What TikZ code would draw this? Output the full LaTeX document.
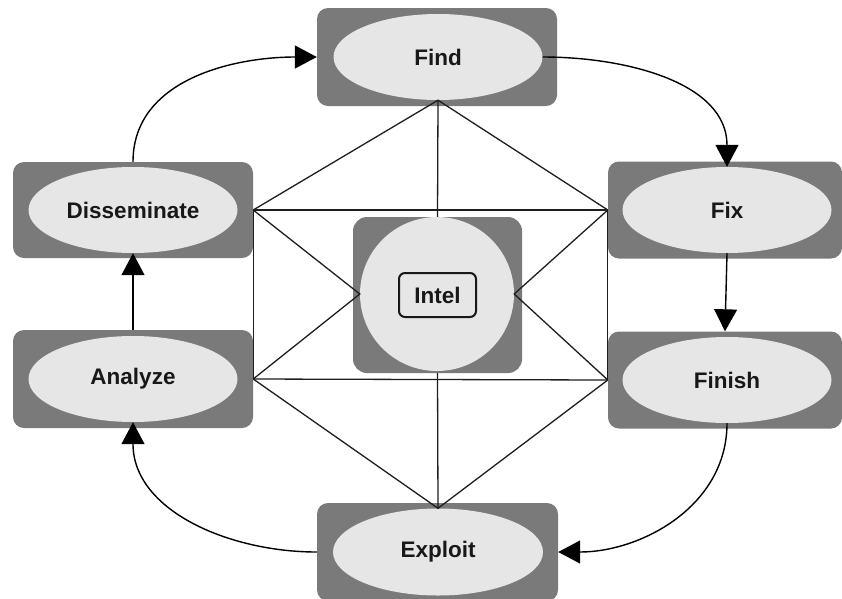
\documentclass[tikz,border=0pt]{standalone}
\usepackage{fontspec}
\setmainfont{Liberation Sans}
\usetikzlibrary{arrows.meta,shapes.geometric}
\definecolor{boxgray}{RGB}{122,122,122}
\definecolor{ovalfill}{RGB}{230,230,230}
\definecolor{inktext}{RGB}{24,24,24}
\definecolor{wire}{RGB}{30,30,30}
\tikzset{
  panel/.style={fill=boxgray, draw=none, rounded corners=11pt, inner sep=0pt},
  oval/.style={ellipse, fill=ovalfill, draw=none, minimum width=209pt, minimum height=86pt,
    inner sep=0pt, text=inktext, font=\bfseries\fontsize{22.5}{26}\selectfont},
  mesh/.style={draw=wire, line width=1.3pt},
  flow/.style={draw=black, line width=1.4pt, -{Triangle[length=22pt,width=23pt]}},
}
\begin{document}
\begin{tikzpicture}[x=1pt,y=-1pt]
\useasboundingbox[fill=white] (0,0) rectangle (842,598);

% grey panels
\node[panel, minimum width=240pt, minimum height=98pt] (findbox) at (437,57) {};
\node[panel, minimum width=240pt, minimum height=96pt] (dissbox) at (133,210) {};
\node[panel, minimum width=240pt, minimum height=98pt] (anabox) at (133,379) {};
\node[panel, minimum width=234pt, minimum height=97pt] (fixbox) at (725,210) {};
\node[panel, minimum width=234pt, minimum height=97pt] (finbox) at (725,380) {};
\node[panel, minimum width=241pt, minimum height=98pt] (expbox) at (437.5,552) {};
\node[panel, rounded corners=14pt, minimum width=169pt, minimum height=156pt] (intelbox) at (437.5,295) {};

% ovals with the stage names
\node[oval] (find) at (438,57) {Find};
\node[oval] (diss) at (133,210) {Disseminate};
\node[oval] (ana) at (133,379) {Analyze};
\node[oval] (fix) at (727,210) {Fix};
\node[oval] (fin) at (727,380) {Finish};
\node[oval, minimum width=210pt, minimum height=87pt] (exp) at (438,552) {Exploit};

% central disc and label
\node[circle, fill=ovalfill, minimum size=154pt, inner sep=0pt] (core) at (437,294) {};
\node[draw=inktext, line width=2pt, rounded corners=6pt, fill=ovalfill,
      minimum width=77pt, minimum height=44pt, inner sep=0pt, text=inktext,
      font=\bfseries\fontsize{22.5}{26}\selectfont] (intel) at (437.5,295) {Intel};

% connecting mesh
\coordinate (T) at (find.south);
\coordinate (B) at (exp.north);
\coordinate (LT) at (dissbox.east);
\coordinate (LB) at (anabox.east);
\coordinate (RT) at (fixbox.west);
\coordinate (RB) at (finbox.west);
\draw[mesh] (LT) -- (T) -- (RT);
\draw[mesh] (T) -- (intelbox.north);
\draw[mesh] (LT) -- (RT);
\draw[mesh] (LB) -- (RB);
\draw[mesh] (LT) -- (LB);
\draw[mesh] (RT) -- (RB);
\draw[mesh] (LT) -- (core.west) -- (LB);
\draw[mesh] (RT) -- (core.east) -- (RB);
\draw[mesh] (LB) -- (B) -- (RB);
\draw[mesh] (B) -- (intelbox.south);

% cycle arrows
\draw[flow] (dissbox.north) to[out=90,in=180] (findbox.west);
\draw[flow] (find.east) to[out=0,in=90] (fix.north);
\draw[flow] (fix.south) -- (finbox.north);
\draw[flow] (fin.south) to[out=-90,in=0] (expbox.east);
\draw[flow] (expbox.west) to[out=180,in=-90] (ana.south);
\draw[flow] (anabox.north) -- (diss.south);
\end{tikzpicture}
\end{document}
